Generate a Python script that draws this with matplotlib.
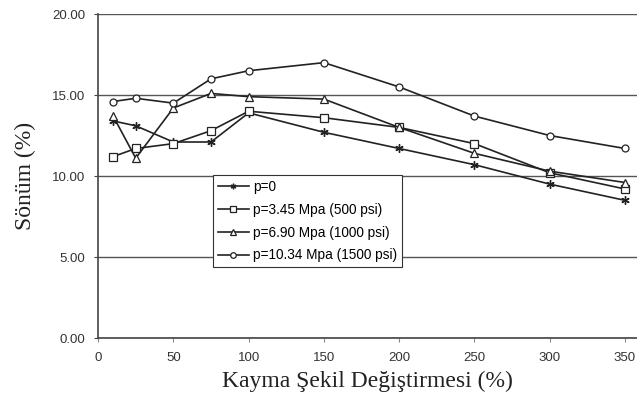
import matplotlib
matplotlib.use("Agg")
import matplotlib.pyplot as plt

x = [10, 25, 50, 75, 100, 150, 200, 250, 300, 350]
p0 = [13.4, 13.1, 12.1, 12.1, 13.9, 12.7, 11.7, 10.7, 9.5, 8.5]
p345 = [11.2, 11.7, 12.0, 12.8, 14.0, 13.6, 13.0, 12.0, 10.2, 9.2]
p690 = [13.7, 11.1, 14.2, 15.1, 14.9, 14.75, 13.0, 11.4, 10.3, 9.6]
p1034 = [14.6, 14.8, 14.5, 16.0, 16.5, 17.0, 15.5, 13.7, 12.5, 11.7]
labels = ["p=0", "p=3.45 Mpa (500 psi)", "p=6.90 Mpa (1000 psi)", "p=10.34 Mpa (1500 psi)"]
xticks = [0, 50, 100, 150, 200, 250, 300, 350]
yticks = [0, 5, 10, 15, 20]

fig = plt.figure(figsize=(6.37, 4.07), dpi=100)
ax = fig.add_axes([0.154, 0.1695, 0.846, 0.796])

styles = [
    dict(marker=(6, 2, 0), markersize=6, mew=1.0),
    dict(marker='s', markersize=5.5, mfc='white', mew=0.9),
    dict(marker='^', markersize=5.5, mfc='white', mew=0.9),
    dict(marker='o', markersize=5, mfc='white', mew=0.9),
]
for ys, lab, st in zip([p0, p345, p690, p1034], labels, styles):
    ax.plot(x, ys, color='#222222', lw=1.2, mec='#222222', label=lab, **st)

ax.set_xlim(0, 358)
ax.set_ylim(0, 20)
ax.set_xticks(xticks)
ax.set_yticks(yticks)
ax.set_yticklabels([f"{v:.2f}" for v in yticks])
ax.yaxis.grid(True, color='#555555', lw=1.0)
ax.set_axisbelow(True)
for s in ['top', 'right']:
    ax.spines[s].set_visible(False)
for s in ['left', 'bottom']:
    ax.spines[s].set_color('#444444')
    ax.spines[s].set_linewidth(1.2)
ax.tick_params(axis='x', length=3, color='#888888', labelsize=9.5, pad=7)
ax.tick_params(axis='y', length=3, color='#444444', labelsize=9.5, pad=6)
for t in ax.get_xticklabels() + ax.get_yticklabels():
    t.set_family('Liberation Sans')
    t.set_color('#333333')

ax.set_xlabel("Kayma Şekil Değiştirmesi (%)", family='Liberation Serif', fontsize=17, labelpad=5, color='#222222')
ax.set_ylabel("Sönüm (%)", family='Liberation Serif', fontsize=17, labelpad=12, color='#222222')

leg = ax.legend(loc='upper left', bbox_to_anchor=(0.213, 0.503), frameon=True, fancybox=False,
                edgecolor='#333333', framealpha=1, handlelength=2.3,
                borderpad=0.35, labelspacing=0.65, handletextpad=0.3, borderaxespad=0,
                prop={'family': 'Liberation Sans', 'size': 9.8})
leg.get_frame().set_linewidth(0.8)
for h in leg.get_lines():
    h.set_markersize(4)

fig.savefig("out.png", dpi=100)
